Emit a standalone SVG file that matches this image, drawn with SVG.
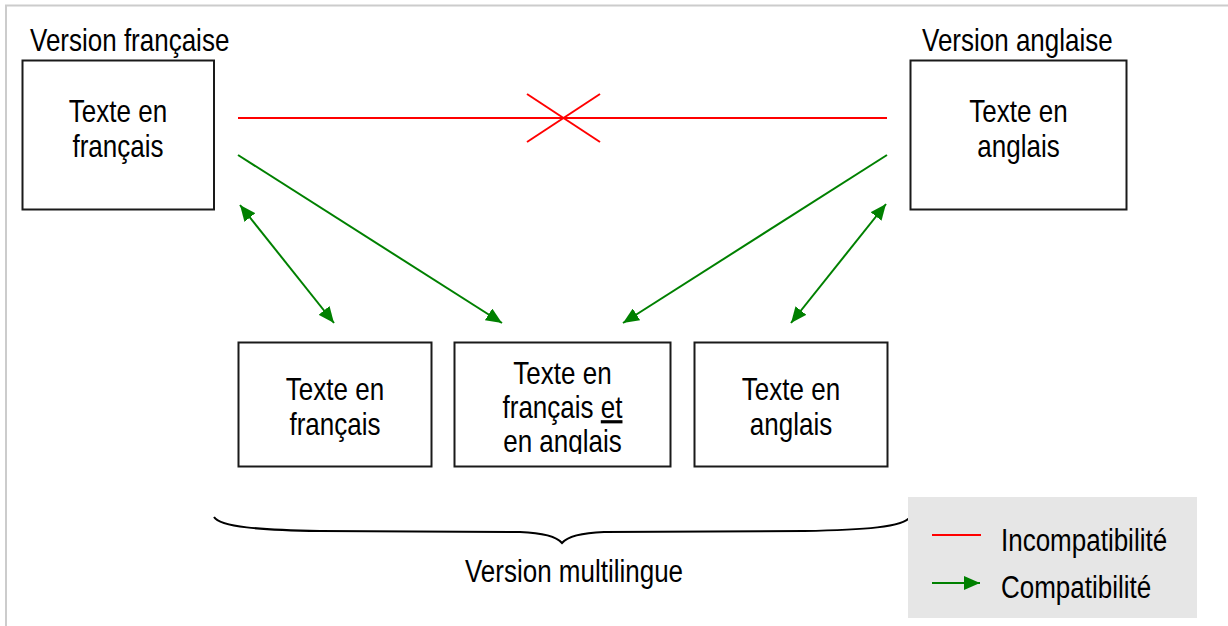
<svg xmlns="http://www.w3.org/2000/svg" width="1228" height="626" viewBox="0 0 1228 626">
<style>
  text { font-family: "Liberation Sans", Arial, sans-serif; font-size: 26px; fill: #000; }
  .mid { text-anchor: middle; }
  .box { fill: #fff; stroke: #1a1a1a; stroke-width: 2; }
  .red { stroke: #ff0000; stroke-width: 2; fill: none; }
  .green { stroke: #008000; stroke-width: 2; fill: none; }
</style>
<defs>
  <marker id="ah" viewBox="0 0 16 14" refX="16" refY="7" markerWidth="16" markerHeight="14" markerUnits="userSpaceOnUse" orient="auto-start-reverse">
    <path d="M0,0 L16,7 L0,14 z" fill="#008000"/>
  </marker>
  <clipPath id="clipMid"><rect x="454" y="342" width="217" height="112"/></clipPath>
</defs>
<rect width="1228" height="626" fill="#fff"/>
<path d="M6,627 V5.5 H1229" fill="none" stroke="#cccccc" stroke-width="2"/>

<g id="label-fr">
  <text transform="translate(30,51) scale(1,1.18)">Version française</text>
</g>
<g id="label-en">
  <text transform="translate(922,51) scale(1,1.18)">Version anglaise</text>
</g>

<g id="node-fr">
  <rect class="box" x="22.5" y="60.5" width="191.5" height="149"/>
  <text class="mid" transform="translate(118,122) scale(1,1.22)">Texte en</text>
  <text class="mid" transform="translate(118,157) scale(1,1.22)">français</text>
</g>
<g id="node-en">
  <rect class="box" x="910.5" y="60.5" width="216" height="149"/>
  <text class="mid" transform="translate(1018.5,122) scale(1,1.22)">Texte en</text>
  <text class="mid" transform="translate(1018.5,157) scale(1,1.22)">anglais</text>
</g>
<g id="node-multi-fr">
  <rect class="box" x="238.5" y="342.5" width="193" height="124"/>
  <text class="mid" transform="translate(335,400) scale(1,1.22)">Texte en</text>
  <text class="mid" transform="translate(335,435) scale(1,1.22)">français</text>
</g>
<g id="node-multi-both">
  <rect class="box" x="454.5" y="342.5" width="216" height="124"/>
  <g clip-path="url(#clipMid)">
    <text class="mid" transform="translate(562.5,384) scale(1,1.22)">Texte en</text>
    <text class="mid" transform="translate(562.5,418) scale(1,1.22)">français <tspan text-decoration="underline">et</tspan></text>
    <text class="mid" transform="translate(562.5,452) scale(1,1.22)">en anglais</text>
  </g>
</g>
<g id="node-multi-en">
  <rect class="box" x="694.5" y="342.5" width="193" height="124"/>
  <text class="mid" transform="translate(791,400) scale(1,1.22)">Texte en</text>
  <text class="mid" transform="translate(791,435) scale(1,1.22)">anglais</text>
</g>

<g id="connectors">
  <line class="red" x1="238" y1="118" x2="887" y2="118"/>
  <line class="red" x1="527" y1="94" x2="600" y2="142"/>
  <line class="red" x1="527" y1="142" x2="600" y2="94"/>
  <line class="green" x1="238" y1="155" x2="502" y2="323" marker-end="url(#ah)"/>
  <line class="green" x1="240" y1="205" x2="334" y2="323" marker-start="url(#ah)" marker-end="url(#ah)"/>
  <line class="green" x1="887" y1="155" x2="623" y2="323" marker-end="url(#ah)"/>
  <line class="green" x1="886" y1="204" x2="791" y2="323" marker-start="url(#ah)" marker-end="url(#ah)"/>
</g>

<g id="brace">
  <path d="M214,517 C220,527 260,530 320,531 L520,532 C545,533 557,537 562,543 C567,537 579,533 604,532 L804,531 C864,530 904,527 910,517" fill="none" stroke="#000" stroke-width="2"/>
  <text class="mid" transform="translate(574,582) scale(1,1.2)">Version multilingue</text>
</g>

<g id="legend">
  <rect x="908" y="497" width="289" height="121" fill="#e6e6e6"/>
  <line class="red" x1="932" y1="535" x2="981" y2="535"/>
  <line class="green" x1="932" y1="583" x2="980" y2="583" marker-end="url(#ah)"/>
  <text transform="translate(1001,551) scale(1,1.2)">Incompatibilité</text>
  <text transform="translate(1001,598) scale(1,1.2)">Compatibilité</text>
</g>
</svg>
